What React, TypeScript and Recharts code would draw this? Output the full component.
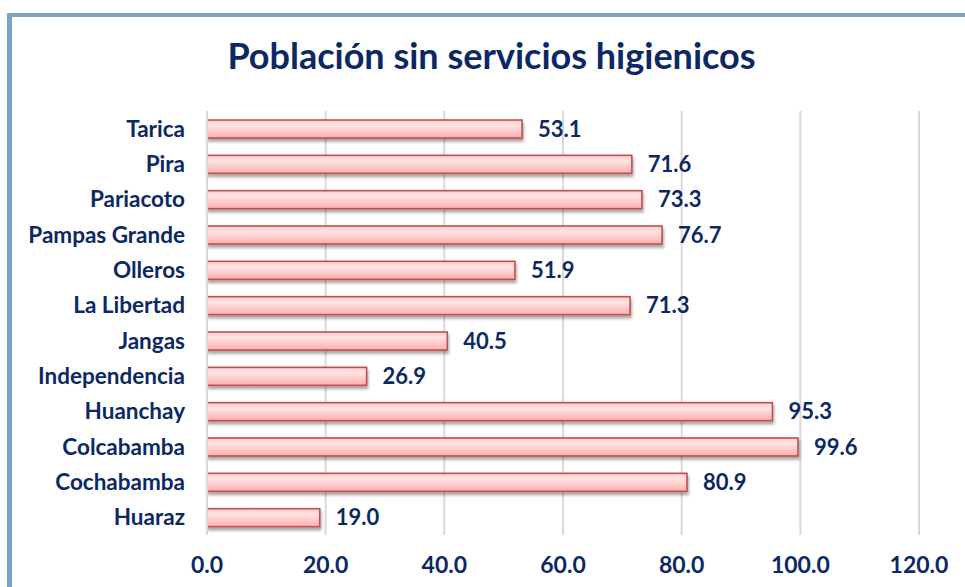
import React from 'react';
import { BarChart, Bar, XAxis, YAxis, CartesianGrid, LabelList } from 'recharts';

const districts = [
  'Tarica',
  'Pira',
  'Pariacoto',
  'Pampas Grande',
  'Olleros',
  'La Libertad',
  'Jangas',
  'Independencia',
  'Huanchay',
  'Colcabamba',
  'Cochabamba',
  'Huaraz',
];
const sinServicios = [53.1, 71.6, 73.3, 76.7, 51.9, 71.3, 40.5, 26.9, 95.3, 99.6, 80.9, 19.0];
const xTicks = [0, 20, 40, 60, 80, 100, 120];

const data = districts.map((name, i) => ({ name, value: sinServicios[i] }));

const NAVY = '#0C2864';
const FONT = 'Lato, "Open Sans", sans-serif';

const BarShape = (props: any) => {
  const { x, y, width, height } = props;
  if (width == null || width <= 0) return null;
  return (
    <rect
      x={x}
      y={y}
      width={width}
      height={height}
      fill="url(#barFill)"
      stroke="#C0504D"
      strokeWidth={1.6}
      filter="url(#barShadow)"
    />
  );
};

const App: React.FC = () => {
  return (
    <div style={{ position: 'relative', width: 965, height: 587, overflow: 'hidden', background: '#fff' }}>
      <style>{`body{margin:0}`}</style>
      <div
        style={{
          position: 'absolute',
          left: 7,
          top: 13,
          width: 1000,
          height: 700,
          borderLeft: '5px solid #7FA3BE',
          borderTop: '4px solid #7FA3BE',
          boxSizing: 'border-box',
        }}
      />
      <div
        style={{
          position: 'absolute',
          left: 0,
          width: 983,
          top: 33,
          textAlign: 'center',
          fontFamily: FONT,
          fontWeight: 700,
          fontSize: 36,
          color: NAVY,
        }}
      >
        Población sin servicios higienicos
      </div>
      <div style={{ position: 'absolute', left: 0, top: 0 }}>
        <BarChart
          width={965}
          height={587}
          data={data}
          layout="vertical"
          margin={{ top: 111, right: 46, bottom: 0, left: 0 }}
          barSize={18}
        >
          <defs>
            <linearGradient id="barFill" x1="0" y1="0" x2="0" y2="1">
              <stop offset="0%" stopColor="#FFCACA" />
              <stop offset="30%" stopColor="#FFE4E4" />
              <stop offset="100%" stopColor="#FFAEAE" />
            </linearGradient>
            <filter id="barShadow" x="-5%" y="-30%" width="110%" height="180%">
              <feDropShadow dx="1" dy="3" stdDeviation="1.5" floodColor="#000" floodOpacity="0.35" />
            </filter>
          </defs>
          <CartesianGrid horizontal={false} vertical={true} stroke="#D9D9D9" strokeWidth={2} />
          <XAxis
            type="number"
            domain={[0, 120]}
            ticks={xTicks}
            height={52}
            axisLine={false}
            tickLine={false}
            tickSize={0}
            tickMargin={22}
            tickFormatter={(v: number) => v.toFixed(1)}
            tick={{ fill: NAVY, fontFamily: FONT, fontWeight: 700, fontSize: 23 }}
          />
          <YAxis
            type="category"
            dataKey="name"
            width={207}
            axisLine={{ stroke: '#D9D9D9', strokeWidth: 2 }}
            tickLine={false}
            tickSize={0}
            tickMargin={22}
            interval={0}
            tick={{ fill: NAVY, fontFamily: FONT, fontWeight: 700, fontSize: 22.5 }}
          />
          <Bar dataKey="value" shape={BarShape} isAnimationActive={false}>
            <LabelList
              dataKey="value"
              position="right"
              offset={16}
              formatter={(v: any) => Number(v).toFixed(1)}
              style={{ fill: NAVY, fontFamily: FONT, fontWeight: 700, fontSize: 22 }}
            />
          </Bar>
        </BarChart>
      </div>
    </div>
  );
};

export default App;
